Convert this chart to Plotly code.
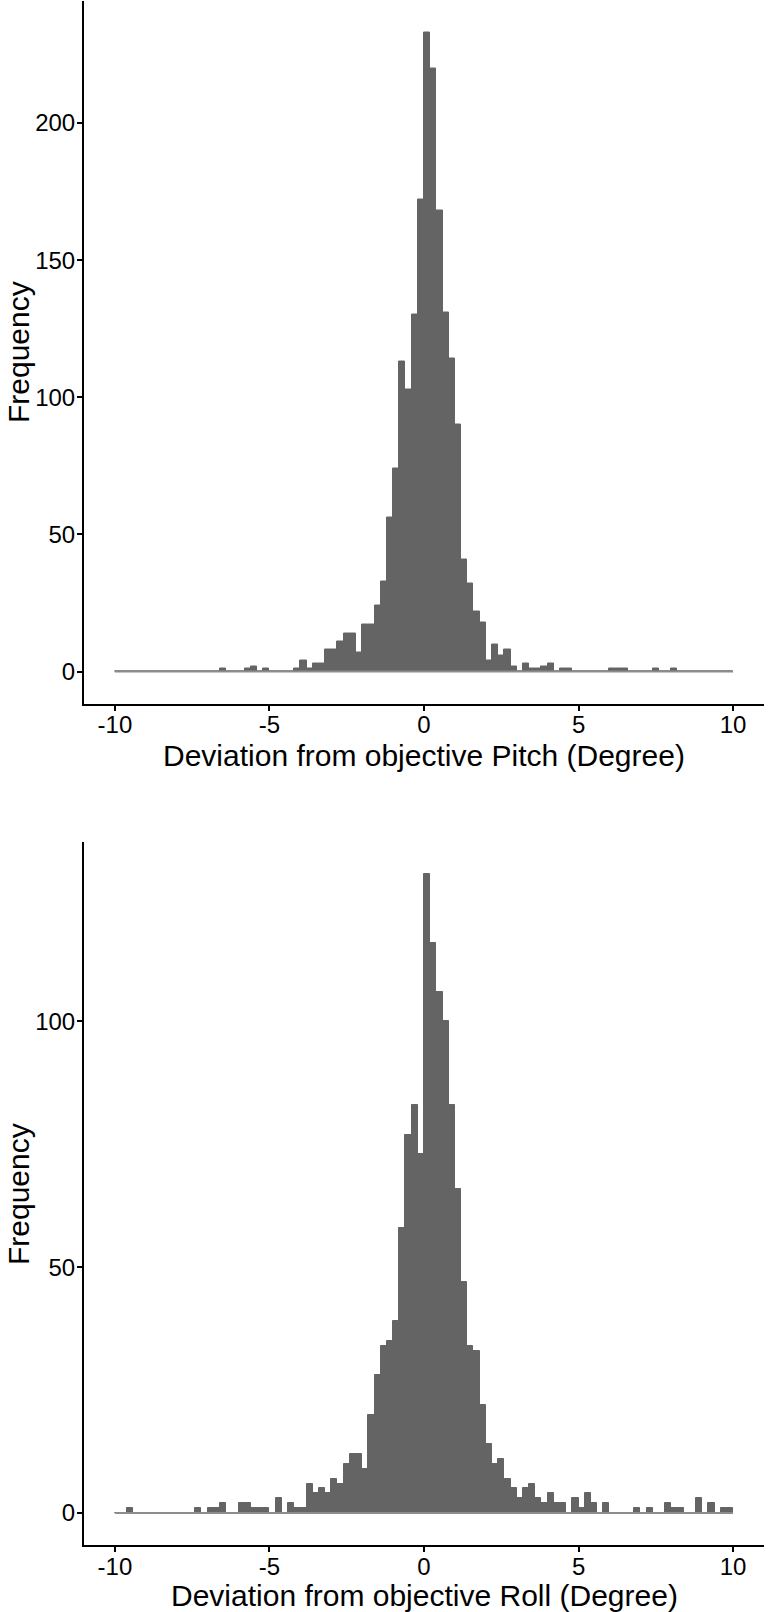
import numpy as np
import plotly.graph_objects as go

# ---- data ----
bin_width = 0.2
bin_lo, bin_hi = -10.0, 10.0
bin_edges = np.round(np.arange(bin_lo, bin_hi + bin_width / 2, bin_width), 2)

pitch_counts = [
    0, 0, 0, 0, 0, 0, 0, 0, 0, 0,
    0, 0, 0, 0, 0, 0, 0, 1, 0, 0,
    0, 1, 2, 0, 1, 0, 0, 0, 0, 1,
    4, 1, 3, 3, 8, 8, 11, 14, 14, 7,
    17, 17, 24, 33, 56, 74, 113, 103, 130, 172,
    233, 220, 168, 131, 114, 90, 41, 32, 22, 18,
    4, 10, 6, 8, 2, 0, 3, 1, 1, 2,
    3, 0, 1, 1, 0, 0, 0, 0, 0, 0,
    1, 1, 1, 0, 0, 0, 0, 1, 0, 0,
    1, 0, 0, 0, 0, 0, 0, 0, 0, 0,
]
roll_counts = [
    0, 0, 1, 0, 0, 0, 0, 0, 0, 0,
    0, 0, 0, 1, 0, 1, 1, 2, 0, 0,
    2, 2, 1, 1, 1, 0, 3, 0, 2, 1,
    1, 6, 4, 5, 4, 7, 6, 10, 12, 12,
    9, 20, 28, 34, 35, 39, 58, 77, 83, 73,
    130, 116, 106, 100, 83, 66, 47, 34, 33, 22,
    14, 10, 11, 7, 5, 3, 5, 6, 3, 2,
    4, 2, 2, 0, 3, 1, 4, 2, 0, 2,
    0, 0, 0, 0, 1, 0, 1, 0, 0, 2,
    1, 1, 0, 0, 3, 0, 2, 0, 1, 1,
]

x_tickvals = [-10, -5, 0, 5, 10]
x_ticktext = ["-10", "-5", "0", "5", "10"]
pitch_yticks = [0, 50, 100, 150, 200]
roll_yticks = [0, 50, 100]
pitch_title = "Deviation from objective Pitch (Degree)"
roll_title = "Deviation from objective Roll (Degree)"
y_title = "Frequency"

# ---- style ----
W, H = 768, 1612
FONT = "Liberation Sans, Arial, Helvetica, sans-serif"
BAR_FILL = "#646464"
BASE_LINE = "#8c8c8c"

centers = (bin_edges[:-1] + bin_edges[1:]) / 2

def ydom(top_px, bot_px):
    return [1 - bot_px / H, 1 - top_px / H]

fig = go.Figure()

for counts, xa, ya in [(pitch_counts, "x", "y"), (roll_counts, "x2", "y2")]:
    fig.add_trace(go.Scatter(
        x=[bin_edges[0], bin_edges[-1]], y=[0, 0], mode="lines",
        line=dict(color=BASE_LINE, width=2), xaxis=xa, yaxis=ya,
        hoverinfo="skip", showlegend=False))
    fig.add_trace(go.Bar(
        x=centers, y=counts, width=bin_width,
        marker=dict(color=BAR_FILL, line=dict(color=BAR_FILL, width=1)),
        xaxis=xa, yaxis=ya, showlegend=False))

x_dom = [84 / W, 764 / W]
pitch_max = max(pitch_counts)
roll_max = max(roll_counts)

axis_common = dict(
    showline=True, linecolor="black", linewidth=2,
    ticks="outside", ticklen=5, tickwidth=1.5, tickcolor="black",
    showgrid=False, zeroline=False,
    tickfont=dict(family=FONT, size=24, color="black"),
)

fig.update_layout(
    width=W, height=H,
    margin=dict(l=0, r=0, t=0, b=0),
    paper_bgcolor="white", plot_bgcolor="white",
    bargap=0,
    xaxis=dict(domain=x_dom, range=[-11, 11], anchor="y",
               tickvals=x_tickvals, ticktext=x_ticktext,
               ticklabelstandoff=-6, **axis_common),
    yaxis=dict(domain=ydom(0.5, 703.5), anchor="x",
               range=[-0.05 * pitch_max, 1.05 * pitch_max],
               tickvals=pitch_yticks, ticktext=[str(v) for v in pitch_yticks],
               ticklabelstandoff=-3, **axis_common),
    xaxis2=dict(domain=x_dom, range=[-11, 11], anchor="y2",
                tickvals=x_tickvals, ticktext=x_ticktext,
                ticklabelstandoff=-6, **axis_common),
    yaxis2=dict(domain=ydom(842, 1545), anchor="x2",
                range=[-0.05 * roll_max, 1.05 * roll_max],
                tickvals=roll_yticks, ticktext=[str(v) for v in roll_yticks],
                ticklabelstandoff=-3, **axis_common),
)

title_font = dict(family=FONT, size=30, color="black")
xc = (84 + 764) / 2 / W
annotations = [
    dict(text=pitch_title, x=xc, y=1 - 755 / H),
    dict(text=roll_title, x=xc, y=1 - 1595 / H),
    dict(text=y_title, x=18 / W, y=1 - 352 / H, textangle=-90),
    dict(text=y_title, x=18 / W, y=1 - 1194 / H, textangle=-90),
]
for a in annotations:
    fig.add_annotation(xref="paper", yref="paper", showarrow=False,
                       xanchor="center", yanchor="middle", font=title_font, **a)

fig.write_html("out.html",
               config={"displayModeBar": False},
               post_script="document.body.style.margin='0';document.body.style.padding='0';")
